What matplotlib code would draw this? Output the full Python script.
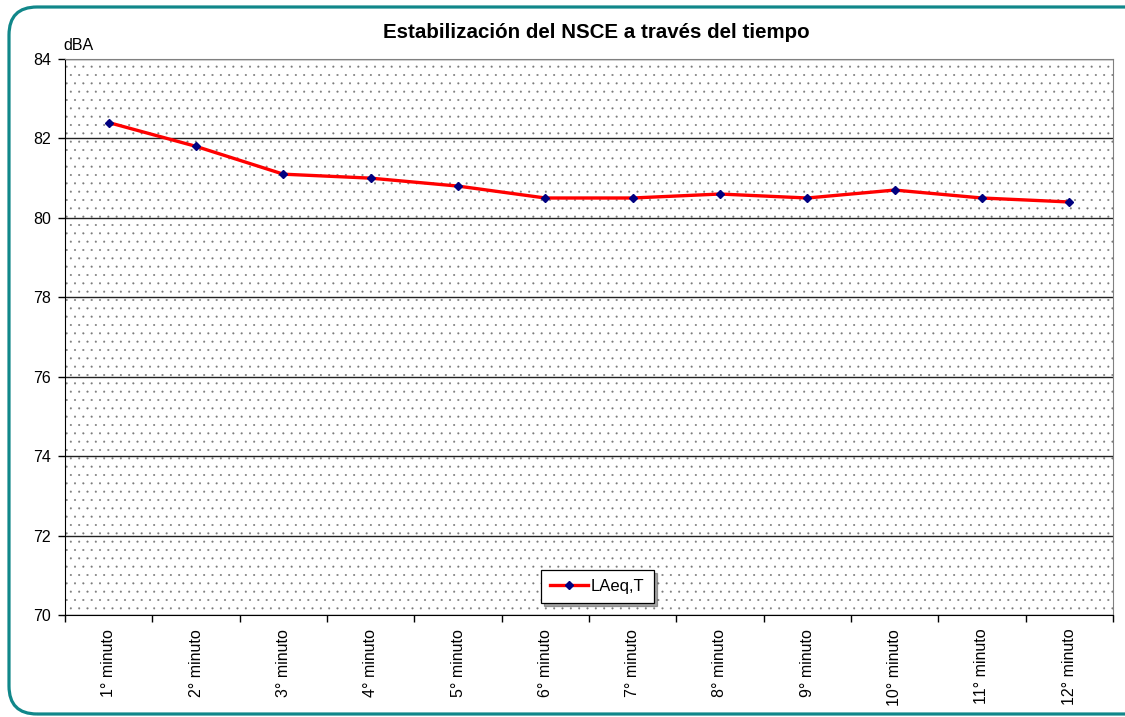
"""Estabilización del NSCE a través del tiempo (LAeq,T por minuto)."""

import matplotlib

matplotlib.use("Agg")
import matplotlib.pyplot as plt
import numpy as np
from matplotlib.patches import FancyBboxPatch, Rectangle

minutes = ["1° minuto", "2° minuto", "3° minuto", "4° minuto", "5° minuto",
           "6° minuto", "7° minuto", "8° minuto", "9° minuto", "10° minuto",
           "11° minuto", "12° minuto"]
laeq = [82.4, 81.8, 81.1, 81.0, 80.8, 80.5, 80.5, 80.6, 80.5, 80.7, 80.5, 80.4]
y_ticks = [70, 72, 74, 76, 78, 80, 82, 84]

plt.rcParams["font.family"] = ["Liberation Sans", "DejaVu Sans"]
plt.rcParams["hatch.color"] = "#7a7a7a"
plt.rcParams["hatch.linewidth"] = 0.25

fig = plt.figure(figsize=(11.25, 7.17), dpi=100)
ax = fig.add_axes([0.0578, 0.1423, 0.9315, 0.7754])

# dotted plot-area background (Excel pattern fill)
bg = Rectangle((0, 0), 1, 1, transform=ax.transAxes, facecolor="white",
               hatch="..", lw=0, zorder=0)
ax.add_patch(bg)

x = np.arange(len(minutes))
ax.plot(x, laeq, color="#ff0000", lw=2.4, marker="D", ms=4.5,
        mfc="#000080", mec="#000080", label="LAeq,T", zorder=3)

ax.set_xlim(-0.5, len(minutes) - 0.5)
ax.set_ylim(70, 84)
ax.set_yticks(y_ticks)
ax.set_yticklabels([str(v) for v in y_ticks], fontsize=11.5)
ax.yaxis.grid(True, color="#222222", lw=1.0, zorder=1)
ax.set_axisbelow(True)

ax.set_xticks(x)
ax.set_xticklabels(minutes, rotation=90, fontsize=11.5)
ax.set_xticks(np.arange(-0.5, len(minutes), 1.0), minor=True)
ax.tick_params(axis="x", which="major", length=0, pad=10)
ax.tick_params(axis="x", which="minor", length=5, direction="out", width=1)
ax.tick_params(axis="y", length=5, direction="out", width=1, pad=5)

for side in ["top", "right"]:
    ax.spines[side].set_color("#808080")
ax.spines["left"].set_color("black")
ax.spines["bottom"].set_color("black")

ax.text(-0.002, 1.01, "dBA", transform=ax.transAxes, fontsize=11.5,
        ha="left", va="bottom")
fig.text(0.53, 0.955, "Estabilización del NSCE a través del tiempo",
         fontsize=14.8, fontweight="bold", ha="center", va="center")

leg = ax.legend(loc="lower center", bbox_to_anchor=(0.508, 0.006),
                fontsize=12, frameon=True, fancybox=False, shadow=True,
                handlelength=2.3, borderpad=0.55, handletextpad=0.15,
                framealpha=1)
leg.get_frame().set_edgecolor("black")
leg.get_frame().set_linewidth(0.9)

# rounded teal chart frame
frame = FancyBboxPatch((0.09, 0.03), 11.6, 7.07,
                       boxstyle="round,pad=0,rounding_size=0.28",
                       transform=fig.dpi_scale_trans, fill=False,
                       edgecolor="#11878a", lw=2.3)
fig.patches.append(frame)

fig.savefig("out.png", dpi=100)
